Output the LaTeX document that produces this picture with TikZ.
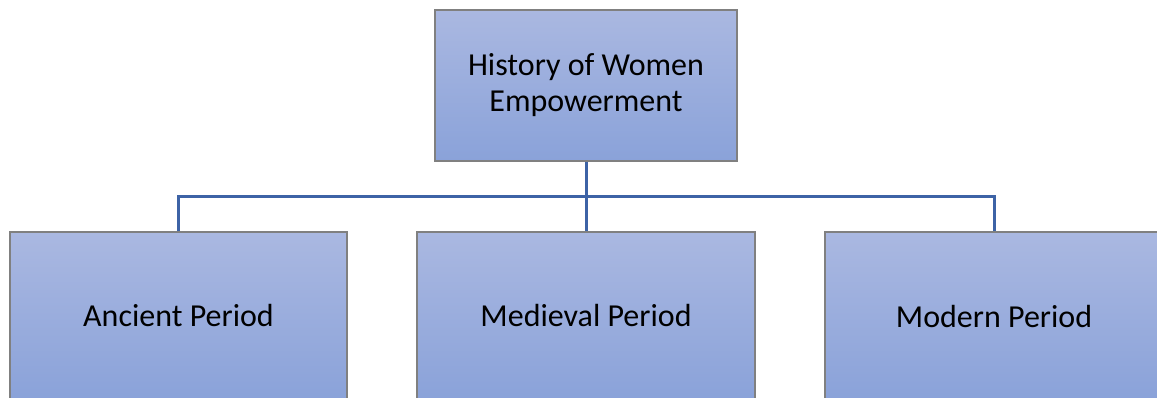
\documentclass[tikz,border=0pt]{standalone}
\usepackage{fontspec}
\setmainfont{Carlito}
\definecolor{boxtop}{HTML}{AAB8E1}
\definecolor{boxbot}{HTML}{8AA2D9}
\definecolor{boxline}{HTML}{808080}
\definecolor{conn}{HTML}{3D63A6}
\tikzset{
  orgbox/.style={draw=boxline, line width=1.2pt, top color=boxtop, bottom color=boxbot,
    align=center, inner sep=0pt, font=\fontsize{32}{36}\selectfont},
  link/.style={draw=conn, line width=3pt, line join=miter}
}
\begin{document}
\begin{tikzpicture}[x=1pt,y=-1pt]
\useasboundingbox (0,0) rectangle (1157,398);
\clip (0,0) rectangle (1157,398);
\node[orgbox, minimum width=302pt, minimum height=151pt] (top) at (586,85.5) {History of Women\\Empowerment};
\node[orgbox, minimum width=337pt, minimum height=168pt] (anc) at (178.5,316) {Ancient Period};
\node[orgbox, minimum width=338pt, minimum height=168pt] (med) at (586,316) {Medieval Period};
\node[orgbox, minimum width=338pt, minimum height=168pt] (mod) at (994,316) {Modern Period};
\coordinate (bar) at (586,197);
\draw[link] (anc.north) |- (bar) -| (mod.north);
\draw[link] (top.south) -- (med.north);
\end{tikzpicture}
\end{document}
